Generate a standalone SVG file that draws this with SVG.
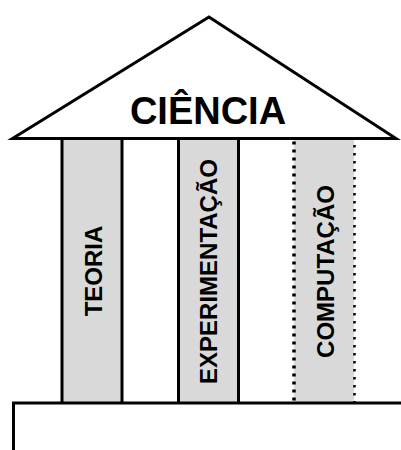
<svg xmlns="http://www.w3.org/2000/svg" width="401" height="450" viewBox="0 0 401 450">
<style>
.col{fill:#d9d9d9;stroke:#000;stroke-width:3}
.lbl{font-family:"Liberation Sans",Arial,sans-serif;font-weight:bold;fill:#000;text-anchor:middle}
.dot{stroke:#000;fill:none}
</style>
<rect width="401" height="450" fill="#fff"/>
<g id="teoria">
<rect class="col" x="62" y="136" width="60" height="268"/>
<text class="lbl" font-size="24" transform="translate(101.5,271) rotate(-90)">TEORIA</text>
</g>
<g id="experimentacao">
<rect class="col" x="178.5" y="136" width="60" height="268"/>
<text class="lbl" font-size="24" transform="translate(216.5,271.5) rotate(-90)">EXPERIMENTAÇÃO</text>
</g>
<g id="computacao">
<rect x="294" y="136" width="60" height="268" fill="#d9d9d9"/>
<line class="dot" x1="294" y1="141.5" x2="294" y2="404" stroke-width="3.5" stroke-dasharray="3 5"/>
<line class="dot" x1="354.5" y1="145" x2="354.5" y2="404" stroke-width="2.5" stroke-dasharray="2.5 5.5"/>
<text class="lbl" font-size="24" transform="translate(333.5,271.5) rotate(-90)">COMPUTAÇÃO</text>
</g>
<g id="ciencia">
<polygon points="12.5,138.5 209,17 396,138.5" fill="#fff" stroke="#000" stroke-width="3" stroke-linejoin="miter"/>
<text class="lbl" x="208" y="124" font-size="38">CIÊNCIA</text>
</g>
<g id="base">
<rect x="13.5" y="403" width="400" height="60" fill="#fff" stroke="#000" stroke-width="3"/>
</g>
<g id="connectors"></g>
</svg>
